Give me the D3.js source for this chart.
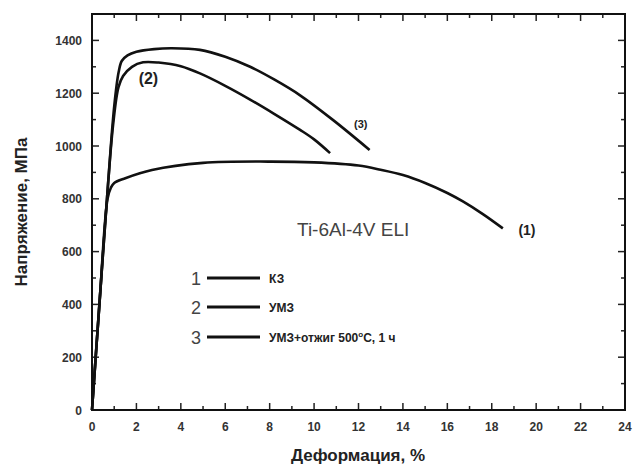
<!DOCTYPE html>
<html><head><meta charset="utf-8">
<script src="https://cdn.jsdelivr.net/npm/d3@7"></script>
<style>
body{margin:0;background:#fff;}
svg{display:block;font-family:"Liberation Sans",Arial,sans-serif;}
</style></head>
<body><svg id="c" width="635" height="469"></svg>
<script>
// Data
const xTicks = [0,2,4,6,8,10,12,14,16,18,20,22,24];
const yTicks = [0,200,400,600,800,1000,1200,1400];
const curve1 = [[0,0],[0.35,420],[0.7,800],[0.85,842],[1.0,860],[1.5,878],[2.7,909],[5,936],[8,941],[10,938],[12,926],[13,910],[14,890],[15,860],[16,822],[16.7,790],[17.6,742],[18.5,688]];
const curve2 = [[0,0],[0.35,420],[0.7,830],[0.95,1080],[1.19,1222],[1.4,1265],[1.8,1300],[2.3,1317],[3.0,1316],[4.0,1302],[4.86,1275],[6.0,1228],[7.12,1176],[8.2,1122],[9.37,1061],[10.0,1025],[10.72,973]];
const curve3 = [[0,0],[0.35,420],[0.7,830],[1.0,1150],[1.2,1280],[1.34,1322],[1.6,1343],[2.0,1357],[2.8,1367],[3.6,1370],[4.86,1364],[6.0,1338],[7.12,1300],[8.2,1252],[9.37,1192],[10.86,1098],[12.5,985]];
const curveLabels = ["(1)","(2)","(3)"];
const legendNums = ["1","2","3"];
const legendTexts = ["КЗ","УМЗ","УМЗ+отжиг 500"];
const material = "Ti-6Al-4V ELI";
const xTitle = "Деформация, %";
const yTitle = "Напряжение, МПа";

const svg = d3.select("#c");
const L=92,R=625,T=14,B=410;
const x = d3.scaleLinear().domain([0,24]).range([L,R]);
const y = d3.scaleLinear().domain([0,1500]).range([B,T]);

// ticks inward on all sides
const g = svg.append("g");
const xMinor = d3.range(0,25,1), yMinor = d3.range(0,1501,100);
const tickCol="#222";
xMinor.forEach(v=>{
  const len = v%2===0?7:4;
  g.append("line").attr("x1",x(v)).attr("x2",x(v)).attr("y1",B).attr("y2",B-len).attr("stroke",tickCol).attr("stroke-width",1.5);
  g.append("line").attr("x1",x(v)).attr("x2",x(v)).attr("y1",T).attr("y2",T+len).attr("stroke",tickCol).attr("stroke-width",1.5);
});
yMinor.forEach(v=>{
  const len = v%200===0?7:4;
  g.append("line").attr("y1",y(v)).attr("y2",y(v)).attr("x1",L).attr("x2",L+len).attr("stroke",tickCol).attr("stroke-width",1.5);
  g.append("line").attr("y1",y(v)).attr("y2",y(v)).attr("x1",R).attr("x2",R-len).attr("stroke",tickCol).attr("stroke-width",1.5);
});
svg.append("rect").attr("x",L).attr("y",T).attr("width",R-L).attr("height",B-T).attr("fill","none").attr("stroke","#111").attr("stroke-width",2);

// tick labels
svg.selectAll(".xl").data(xTicks).enter().append("text")
  .attr("x",d=>x(d)).attr("y",B+21).attr("text-anchor","middle")
  .attr("font-size",12).attr("font-weight","bold").attr("fill","#333").text(d=>d);
svg.selectAll(".yl").data(yTicks).enter().append("text")
  .attr("x",L-10).attr("y",d=>y(d)+4.5).attr("text-anchor","end")
  .attr("font-size",12).attr("font-weight","bold").attr("fill","#333").text(d=>d);

// titles
svg.append("text").attr("x",358).attr("y",461).attr("text-anchor","middle")
  .attr("font-size",17).attr("font-weight","bold").attr("fill","#222").text(xTitle);
svg.append("text").attr("transform","translate(27,212) rotate(-90)").attr("text-anchor","middle")
  .attr("font-size",17).attr("font-weight","bold").attr("fill","#222").text(yTitle);

// curves
const line = d3.line().x(d=>x(d[0])).y(d=>y(d[1])).curve(d3.curveCatmullRom.alpha(0.5));
[curve1,curve2,curve3].forEach(c=>{
  svg.append("path").datum(c).attr("d",line).attr("fill","none").attr("stroke","#111").attr("stroke-width",2.6).attr("stroke-linejoin","round");
});

// curve labels
svg.append("text").attr("x",x(19.2)).attr("y",y(688)+7).attr("font-size",14).attr("font-weight","bold").attr("fill","#222").text(curveLabels[0]);
svg.append("text").attr("x",x(2.1)).attr("y",y(1255)+5).attr("font-size",16).attr("font-weight","bold").attr("fill","#222").text(curveLabels[1]);
svg.append("text").attr("x",x(11.8)).attr("y",y(1085)+4).attr("font-size",11).attr("font-weight","bold").attr("fill","#222").text(curveLabels[2]);

// material label
svg.append("text").attr("x",297).attr("y",236).attr("font-size",19).attr("fill","#444").text(material);

// legend
const ly=[278,307,337];
legendNums.forEach((n,i)=>{
  svg.append("text").attr("x",191).attr("y",ly[i]+6.5).attr("font-size",18).attr("fill","#444").text(n);
  svg.append("line").attr("x1",207).attr("x2",260).attr("y1",ly[i]).attr("y2",ly[i]).attr("stroke","#111").attr("stroke-width",3);
  const t = svg.append("text").attr("x",269).attr("y",ly[i]+4.5).attr("font-size",12).attr("font-weight","bold").attr("fill","#222").text(legendTexts[i]);
  if(i===2){
    t.append("tspan").attr("font-size",8).attr("dy",-5).text("o");
    t.append("tspan").attr("dy",5).text("C, 1 ч");
  }
});
</script></body></html>
